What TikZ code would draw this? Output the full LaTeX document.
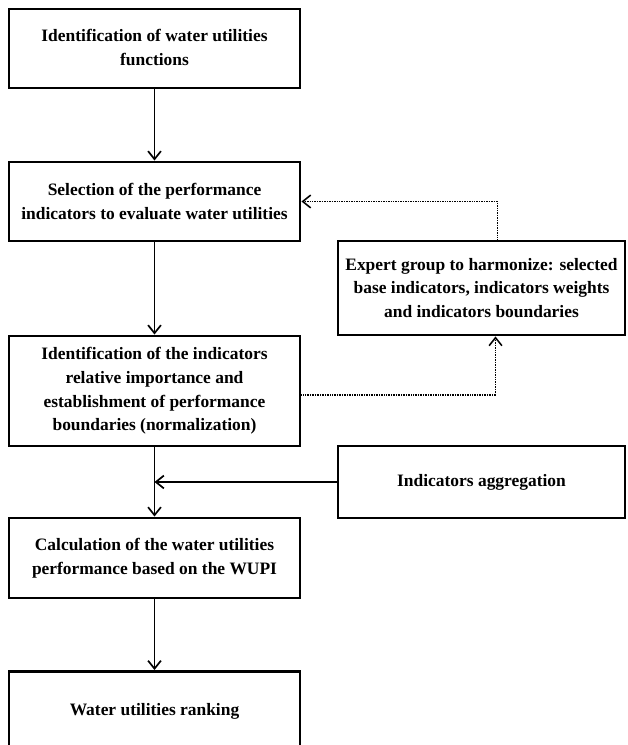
\documentclass[tikz,border=0pt]{standalone}
\usepackage{fontspec}
\setmainfont{Liberation Serif}
\usetikzlibrary{arrows.meta,positioning,calc}

\begin{document}
\begin{tikzpicture}[
    stage/.style={draw, line width=2.1pt, align=center, inner sep=2pt, font=\fontsize{12.4}{16.9}\selectfont\bfseries},
    arrow/.style={-{Straight Barb[length=2mm,width=3.2mm]}, line width=1.2pt},
    dotarrow/.style={-{Straight Barb[length=2mm,width=3.2mm]}, line width=1.1pt, dash pattern=on 0.7pt off 0.5pt}
]
\useasboundingbox (0,0) rectangle (15.675,18.625);

% Main column
\node[stage, minimum width=7.275cm, minimum height=1.975cm] (ident) at (3.8625, 17.4125) {\raisebox{-2pt}{\begin{tabular}{@{}c@{}}Identification of water utilities\\functions\end{tabular}}};
\node[stage, minimum width=7.275cm, minimum height=1.975cm] (select) at (3.8625, 13.5875) {Selection of the performance\\indicators to evaluate water utilities};
\node[stage, minimum width=7.275cm, minimum height=2.75cm] (weights) at (3.8625, 8.85) {Identification of the indicators\\relative importance and\\establishment of performance\\boundaries (normalization)};
\node[stage, minimum width=7.275cm, minimum height=2cm] (calc) at (3.8625, 4.675) {Calculation of the water utilities\\performance based on the WUPI};
\node[stage, minimum width=7.275cm, minimum height=1.975cm] (rank) at (3.8625, 0.85) {Water utilities ranking};

% Side boxes
\node[stage, minimum width=7.175cm, minimum height=2.35cm] (expert) at (12.0375, 11.425) {Expert group to harmonize: selected\\base indicators, indicators weights\\and indicators boundaries};
\node[stage, minimum width=7.175cm, minimum height=1.8cm] (aggr) at (12.0375, 6.575) {Indicators aggregation};

% Arrows
\draw[arrow] (ident) -- (select);
\draw[arrow] (select) -- (weights);
\draw[arrow] (weights) -- (calc);
\draw[arrow] (calc) -- (rank);
\draw[arrow] (aggr) -- (aggr -| weights);

% Feedback loop
\draw[dotarrow] ([xshift=0.4cm]expert.north) |- (select.east);
\draw[dotarrow] ([yshift=-0.1cm]weights.east) -| ([xshift=0.35cm]expert.south);

\end{tikzpicture}
\end{document}
